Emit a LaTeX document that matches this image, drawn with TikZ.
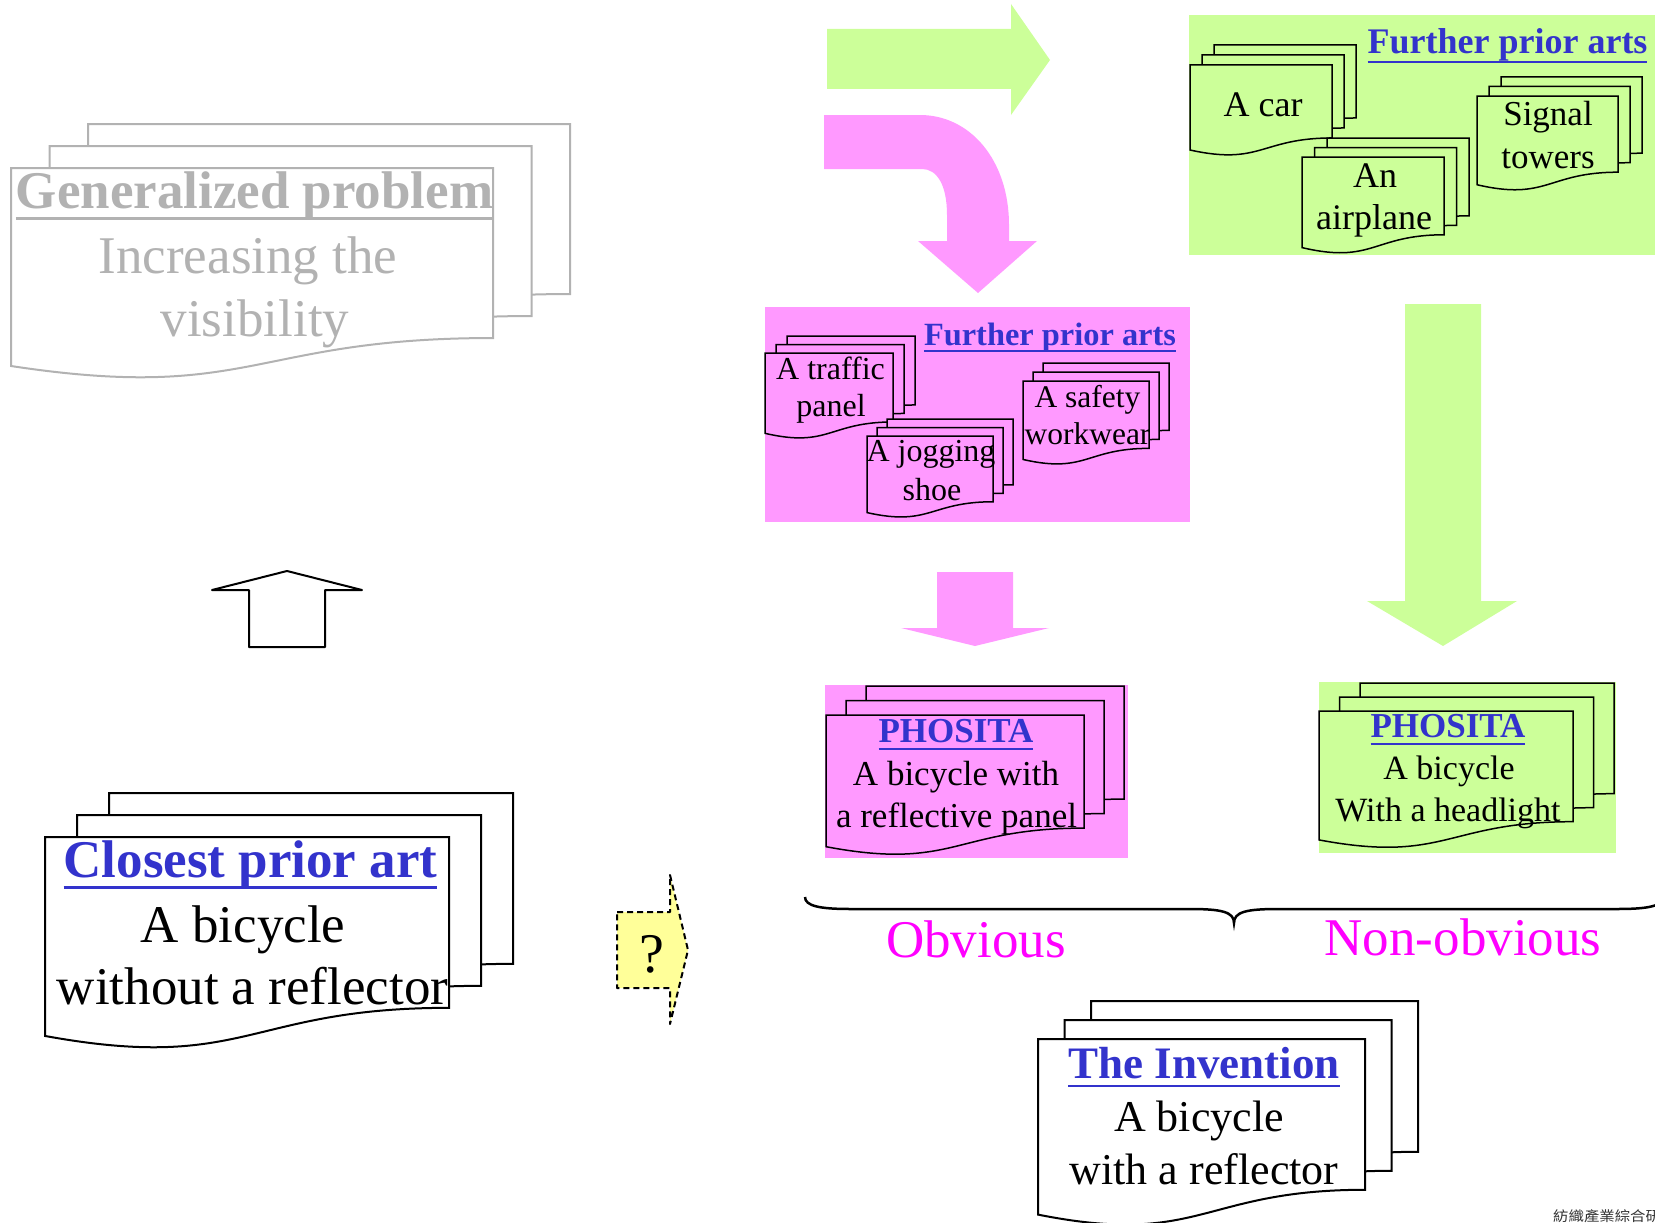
\documentclass[tikz,border=0pt]{standalone}
\usepackage{fontspec}
\setmainfont{Liberation Serif}
\newfontfamily\cjkfont{Noto Sans CJK TC}
\definecolor{pinkfill}{HTML}{FF99FF}
\definecolor{greenfill}{HTML}{CCFF99}
\definecolor{yellowfill}{HTML}{FFFF99}
\definecolor{titleblue}{HTML}{3333CC}
\definecolor{verdict}{HTML}{FF00FF}
\definecolor{fadegray}{HTML}{B2B2B2}
\newcommand\fsz[1]{\fontsize{#1pt}{#1pt}\selectfont}
% one sheet of a document symbol: left, top, width, height
\newcommand\docsheet[4]{%
  \filldraw ({#1},{#2}) -- ({#1+#3},{#2}) -- ({#1+#3},{#2+0.802*#4})
    .. controls ({#1+0.5*#3},{#2+0.802*#4}) and ({#1+0.5*#3},{#2+1.107*#4}) ..
    ({#1},{#2+0.934*#4}) -- cycle;}
% stack of three sheets: left, top, width, height, x-offset, y-offset
\newcommand\docstack[6]{%
  \docsheet{#1+2*#5}{#2-2*#6}{#3}{#4}%
  \docsheet{#1+#5}{#2-#6}{#3}{#4}%
  \docsheet{#1}{#2}{#3}{#4}}
% underline below a title node
\newcommand\titlerule[3]{%
  \draw[line width=#3] ([yshift=-#2pt]#1.base west) -- ([yshift=-#2pt]#1.base east);}

\begin{document}
\begin{tikzpicture}[x=1pt,y=-1pt,
  lbl/.style={inner sep=0pt, outer sep=0pt, anchor=base},
  bigtitle/.style={lbl, font=\fsz{53}\bfseries, text=titleblue},
  bigtext/.style={lbl, font=\fsz{53}},
  smalltext/.style={lbl, font=\fsz{#1}},
  smalltitle/.style={lbl, font=\fsz{#1}\bfseries, text=titleblue},
  sheetbig/.style={fill=white, draw=black, line width=2},
  sheetsmall/.style={draw=black, line width=1.5}]
\useasboundingbox (0,0) rectangle (1655,1223);

% ---------- coloured panels ----------
\fill[greenfill] (1189,15) rectangle (1655,255);
\fill[pinkfill] (765,307) rectangle (1190,522);
\fill[pinkfill] (825,685) rectangle (1128,858);
\fill[greenfill] (1319,682) rectangle (1616,853);

% ---------- block arrows ----------
\fill[greenfill] (827,29) -- (1011,29) -- (1011,4) -- (1050,60) -- (1011,115)
  -- (1011,89) -- (827,89) -- cycle;
\fill[pinkfill] (824,115) -- (920,115) .. controls (970,115) and (1009,160) .. (1009,225)
  -- (1009,241) -- (1037,241) -- (978,293) -- (918,241) -- (947,241) -- (947,215)
  .. controls (947,185) and (937,169) .. (922,169) -- (824,169) -- cycle;
\fill[pinkfill] (937,572) -- (1013,572) -- (1013,628) -- (1049,628) -- (975,646)
  -- (901,628) -- (937,628) -- cycle;
\fill[greenfill] (1405,304) -- (1481,304) -- (1481,601) -- (1517,601) -- (1443,646)
  -- (1367,601) -- (1405,601) -- cycle;
\draw[line width=2, line join=round] (249,647) -- (249,590) -- (212,590) -- (287,571)
  -- (362,590) -- (325,590) -- (325,647) -- cycle;
\draw[fill=yellowfill, line width=2, line join=round, dash pattern=on 6pt off 4pt]
  (617,912) -- (670,912) -- (670,875) -- (688,950) -- (670,1024) -- (670,988)
  -- (617,988) -- cycle;
\node[lbl, font=\fsz{56}] (query) at (652,972) {?};

% ---------- document stacks ----------
\begin{scope}[fill=white, draw=fadegray, line width=2]
  \docstack{11}{168}{482}{212}{38.5}{22}
\end{scope}
\begin{scope}[sheetbig]
  \docstack{45}{837}{404}{213}{32}{22}
  \docstack{1038}{1039}{327}{188}{26.5}{19}
\end{scope}
\begin{scope}[sheetsmall, fill=greenfill]
  \docstack{1190}{65}{142}{91}{12}{10}
  \docstack{1302}{157}{142}{97}{12.5}{9.5}
  \docstack{1477}{96}{141}{95}{12}{9.5}
  \docstack{1319}{711}{254}{138}{20.5}{14}
\end{scope}
\begin{scope}[sheetsmall, fill=pinkfill]
  \docstack{765}{353}{128}{86}{11}{8.5}
  \docstack{867}{436}{126}{82}{10}{8.5}
  \docstack{1023}{381}{126}{84}{10}{9}
  \docstack{826}{715}{258}{141}{20}{14.5}
\end{scope}

% ---------- generalized problem ----------
\node[lbl, font=\fsz{53}\bfseries, text=fadegray] (gp-title) at (254.5,208) {Generalized problem};
\begin{scope}[fadegray]\titlerule{gp-title}{10}{3}\end{scope}
\node[bigtext, text=fadegray] (gp-l1) at (248,273) {Increasing the};
\node[bigtext, text=fadegray] (gp-l2) at (255,336) {visibility};

% ---------- closest prior art ----------
\node[bigtitle] (cp-title) at (250.5,877) {Closest prior art};
\begin{scope}[titleblue]\titlerule{cp-title}{10}{3}\end{scope}
\node[bigtext] (cp-l1) at (243,942) {A bicycle};
\node[bigtext] (cp-l2) at (252.5,1004) {without a reflector};

% ---------- the invention ----------
\node[lbl, font=\fsz{45}\bfseries, text=titleblue] (inv-title) at (1204,1078) {The Invention};
\begin{scope}[titleblue]\titlerule{inv-title}{8}{2.5}\end{scope}
\node[smalltext=44] (inv-l1) at (1199,1131) {A bicycle};
\node[smalltext=44] (inv-l2) at (1204,1184) {with a reflector};

% ---------- further prior arts (top right) ----------
\node[smalltitle=36] (fa-title) at (1507.5,54) {Further prior arts};
\begin{scope}[titleblue]\titlerule{fa-title}{8}{2}\end{scope}
\node[smalltext=36] (car) at (1263,116) {A car};
\node[smalltext=36] (plane-1) at (1375,187) {An};
\node[smalltext=36] (plane-2) at (1374,229) {airplane};
\node[smalltext=35] (tower-1) at (1548,125) {Signal};
\node[smalltext=35] (tower-2) at (1548,168) {towers};

% ---------- further prior arts (pink) ----------
\node[smalltitle=32.4] (fb-title) at (1050,345) {Further prior arts};
\begin{scope}[titleblue]\titlerule{fb-title}{6}{2}\end{scope}
\node[smalltext=32] (panel-1) at (830.5,379) {A traffic};
\node[smalltext=32] (panel-2) at (831,416) {panel};
\node[smalltext=32] (shoe-1) at (931,461) {A jogging};
\node[smalltext=32] (shoe-2) at (932,500) {shoe};
\node[smalltext=31.5] (wear-1) at (1087.5,407) {A safety};
\node[smalltext=31.5] (wear-2) at (1087.5,444) {workwear};

% ---------- PHOSITA boxes ----------
\node[smalltitle=35] (ph-a-title) at (956,742) {PHOSITA};
\begin{scope}[titleblue]\titlerule{ph-a-title}{7}{2}\end{scope}
\node[smalltext=35] (ph-a-1) at (956,785) {A bicycle with};
\node[smalltext=35] (ph-a-2) at (956.5,827) {a reflective panel};
\node[smalltitle=35] (ph-b-title) at (1448,737) {PHOSITA};
\begin{scope}[titleblue]\titlerule{ph-b-title}{7}{2}\end{scope}
\node[smalltext=34] (ph-b-1) at (1449,779) {A bicycle};
\node[smalltext=34] (ph-b-2) at (1448,821) {With a headlight};

% ---------- brace and verdicts ----------
\draw[line width=2.5] (805,897) .. controls (805,906) and (820,909) .. (850,909)
  -- (1190,909) .. controls (1222,909) and (1234,912) .. (1234,923)
  .. controls (1234,912) and (1246,909) .. (1278,909) -- (1618,909)
  .. controls (1648,909) and (1663,906) .. (1663,897);
\node[bigtext, text=verdict] (obvious) at (976,957) {Obvious};
\node[bigtext, text=verdict] (nonobvious) at (1463,955) {Non-obvious};

% ---------- footer mark ----------
\node[inner sep=0pt, anchor=west, font=\cjkfont\fsz{14}, text=black!80, xscale=1.1]
  (footer) at (1553,1216) {紡織產業綜合研};
\end{tikzpicture}
\end{document}
